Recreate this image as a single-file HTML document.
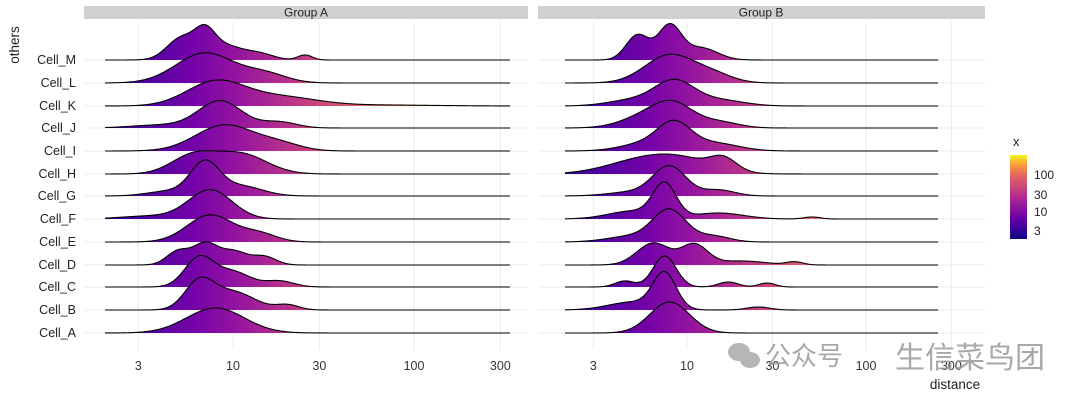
<!DOCTYPE html>
<html><head><meta charset="utf-8"><style>
html,body{margin:0;padding:0;background:#fff;}
svg{display:block;font-family:"Liberation Sans","Noto Sans CJK SC",sans-serif;}
</style></head><body>
<svg id="s" width="1080" height="402" viewBox="0 0 1080 402" xmlns="http://www.w3.org/2000/svg">
<defs>
<linearGradient id="leg" x1="0" y1="1" x2="0" y2="0">
<stop offset="0" stop-color="#0d0887"/><stop offset="0.25" stop-color="#6a00a8"/><stop offset="0.5" stop-color="#b12a90"/><stop offset="0.75" stop-color="#e16462"/><stop offset="0.9" stop-color="#fca636"/><stop offset="1" stop-color="#f0f921"/>
</linearGradient>
</defs>
<rect x="84" y="6" width="444" height="13" fill="#d0d0d0"/>
<rect x="538" y="6" width="447" height="13" fill="#d0d0d0"/>
<text x="306" y="16.5" font-size="12" text-anchor="middle" fill="#222">Group  A</text>
<text x="761" y="16.5" font-size="12" text-anchor="middle" fill="#222">Group  B</text>
<g id="grid" stroke="#ebebeb" stroke-width="1"></g>
<g id="ridges"></g>
<g font-size="12.5" fill="#222" text-anchor="end" id="ylab"></g>
<text transform="translate(19,45) rotate(-90)" font-size="13.5" fill="#222" text-anchor="middle">others</text>
<g font-size="12.5" fill="#333" text-anchor="middle" id="xlab"></g>
<text x="955" y="389" font-size="13.5" fill="#222" text-anchor="middle">distance</text>
<text x="1013" y="146" font-size="13" fill="#222">x</text>
<rect x="1010" y="155" width="17" height="84" fill="url(#leg)"/>
<g font-size="12" fill="#222">
<text x="1034" y="179">100</text><text x="1034" y="199">30</text><text x="1034" y="216">10</text><text x="1034" y="235">3</text>
</g>
<g fill="#aaa" opacity="0.85">
<ellipse cx="739" cy="352" rx="11" ry="9"/><ellipse cx="750" cy="360" rx="10" ry="8"/>
<text x="765" y="365" font-size="26" fill="#999">公众号</text>
<text x="895" y="368" font-size="30" fill="#999">生信菜鸟团</text>
</g>
</svg>
<script>
(function(){
var NS="http://www.w3.org/2000/svg";
var s=document.getElementById('s');
function el(t,a,p){var e=document.createElementNS(NS,t);for(var k in a)e.setAttribute(k,a[k]);(p||s).appendChild(e);return e;}
var panels=[
 {c:233,d:181,x0:84,x1:528,ls:105,le:510,id:'A',sf:0.8},
 {c:687,d:179,x0:538,x1:985,ls:565,le:938,id:'B',sf:0.92}];
var names=['M','L','K','J','I','H','G','F','E','D','C','B','A'];
var base=[60,83,106,128,151,174,196,219,242,265,287,310,333];
var grid=document.getElementById('grid');
var ticks=[3,10,30,100,300];
panels.forEach(function(p){
 base.forEach(function(y){el('line',{x1:p.x0,x2:p.x1,y1:y,y2:y},grid);});
 ticks.forEach(function(t){var x=p.c+p.d*Math.log10(t/10);el('line',{x1:x,x2:x,y1:22,y2:350},grid);
  var tx=el('text',{x:x,y:370},document.getElementById('xlab'));tx.textContent=t;});
});
names.forEach(function(n,i){var t=el('text',{x:76,y:base[i]+4},document.getElementById('ylab'));t.textContent='Cell_'+n;});
var stops=[[1.9,'#2a0593'],[3,'#4a02a0'],[6,'#7403a8'],[10,'#9212a2'],[20,'#b7328a'],[30,'#cc4778'],[60,'#e56b5d'],[100,'#f89540'],[300,'#f0f921']];
var defs=s.querySelector('defs');
panels.forEach(function(p){
 var a=Math.log10(1.9),b=Math.log10(300);
 var g=el('linearGradient',{id:'g'+p.id,gradientUnits:'userSpaceOnUse',x1:p.c+p.d*(a-1),x2:p.c+p.d*(b-1),y1:0,y2:0},defs);
 stops.forEach(function(st){el('stop',{offset:((Math.log10(st[0])-a)/(b-a)).toFixed(3),'stop-color':st[1]},g);});
});
var A={
M:[[7,0.07,22],[5.2,0.1,22],[9,0.12,14],[14,0.1,6],[25,0.05,5]],
L:[[7,0.2,30],[15,0.15,9]],
K:[[8,0.2,24],[18,0.25,9],[60,0.4,1]],
J:[[8.5,0.15,27],[18,0.12,6],[4,0.2,3]],
I:[[9,0.2,26],[18,0.15,7]],
H:[[6,0.15,18],[11,0.18,20]],
G:[[7,0.1,32],[11,0.15,10],[4.5,0.15,5]],
F:[[7.5,0.15,29],[3.5,0.2,3]],
E:[[7.5,0.16,27],[14,0.12,8]],
D:[[5,0.08,14],[7,0.08,20],[10,0.1,14],[15,0.08,8]],
C:[[6.5,0.1,29],[10,0.12,15],[18,0.1,6]],
B:[[6.5,0.1,27],[10,0.15,18],[20,0.08,5]],
A:[[8,0.2,25]]};
var B={
M:[[5.3,0.07,25],[8,0.07,34],[12,0.1,12]],
L:[[8,0.15,28],[14,0.12,8]],
K:[[8.5,0.12,24],[5,0.15,6],[15,0.15,6]],
J:[[8.5,0.12,20],[6,0.15,12],[15,0.12,6]],
I:[[8.5,0.1,24],[6,0.15,8],[14,0.15,8]],
H:[[5,0.2,10],[9,0.2,15],[16,0.08,12]],
G:[[8,0.1,29],[15,0.1,6],[5,0.15,4]],
F:[[7.5,0.07,33],[5,0.15,8],[15,0.15,6],[50,0.05,2]],
E:[[8,0.1,31],[5,0.15,6],[14,0.1,6]],
D:[[6.5,0.1,22],[11,0.08,20],[20,0.15,4],[40,0.05,3]],
C:[[7.5,0.07,31],[4.5,0.06,6],[17,0.06,5],[28,0.05,4]],
B:[[7.5,0.07,35],[5,0.15,8],[25,0.07,3]],
A:[[8,0.12,31]]};
var rg=document.getElementById('ridges');
[[panels[0],A],[panels[1],B]].forEach(function(pr){
 var p=pr[0],D=pr[1];
 names.forEach(function(n,i){
  var y0=base[i],comps=D[n],pts=[];
  for(var x=p.ls;x<=p.le;x+=1){
   var lv=(x-p.c)/p.d+1,h=0;
   comps.forEach(function(c){var z=(lv-Math.log10(c[0]))/(c[1]*p.sf);h+=c[2]*Math.exp(-0.5*z*z);});
   pts.push([x,y0-h]);
  }
  var d='M'+pts.map(function(q){return q[0]+','+q[1].toFixed(2);}).join('L');
  el('path',{d:d+'L'+p.le+','+y0+'L'+p.ls+','+y0+'Z',fill:'url(#g'+p.id+')'},rg);
  el('path',{d:d,fill:'none',stroke:'#000','stroke-width':1.1},rg);
 });
});
})();
</script>
</body></html>
